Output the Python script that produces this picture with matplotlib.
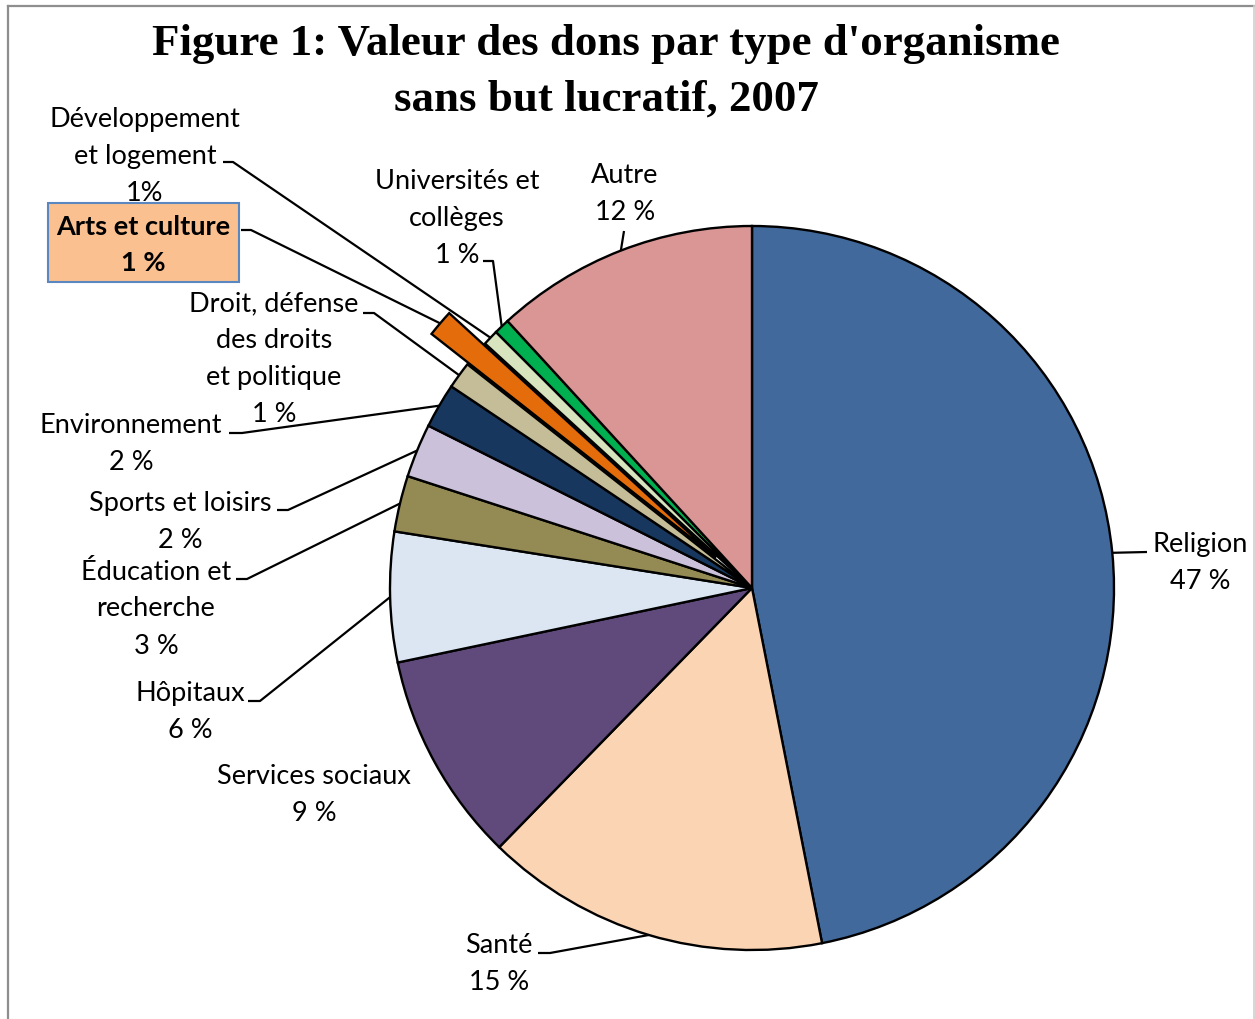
import numpy as np
import matplotlib.pyplot as plt
from matplotlib.lines import Line2D
from matplotlib.patches import Rectangle

W, H = 1255, 1019

# Chart data (share of total donations, %)
categories = ["Religion", "Santé", "Services sociaux", "Hôpitaux",
              "Éducation et recherche", "Sports et loisirs", "Environnement",
              "Droit, défense des droits et politique", "Arts et culture",
              "Développement et logement", "Universités et collèges", "Autre"]
shares = [46.9, 15.4, 9.4, 5.8, 2.5, 2.4, 2.0, 1.2, 1.2, 0.7, 0.7, 11.8]
labels = ["Religion\n47 %", "Santé\n15 %", "Services sociaux\n9 %", "Hôpitaux\n6 %",
          "Éducation et\nrecherche\n3 %", "Sports et loisirs\n2 %", "Environnement\n2 %",
          "Droit, défense\ndes droits\net politique\n1 %", "Arts et culture\n1 %",
          "Développement\net logement\n1%", "Universités et\ncollèges\n1 %", "Autre\n12 %"]
colors = ["#41699B", "#FBD4B4", "#604A7B", "#DCE6F2", "#948A54", "#CCC1DA",
          "#17375E", "#C4BD97", "#E46C0A", "#D7E4BD", "#00B050", "#D99694"]

# Layout in pixel coordinates (origin top-left)
center_px = (752, 588)
radius = 362
explode = [0, 0, 0, 0, 0, 0, 0, 0, 47, 0, 0, 0]
label_pos = [(1200, 563), (499, 964), (314, 795), (190, 712), (156, 609), (180, 522),
             (131, 444), (274, 359), (143, 245), (145, 156), (457, 218), (625, 194)]
leaders = [[(1147, 552)], [(550, 953), (538, 953)], [], [(260, 701), (248, 701)],
           [(247, 579), (236, 579)], [(288, 510), (277, 510)], [(242, 433), (229, 433)],
           [(374, 313), (363, 313)], [(251, 230), (241, 230)], [(233, 162), (223, 162)],
           [(493, 261), (483, 261)], [(624, 231)]]

label_font = "Lato"
label_size = 19.5
label_ls = 1.6

fig = plt.figure(figsize=(W / 100, H / 100), dpi=100)
ax = fig.add_axes([0, 0, 1, 1])

wedges, _ = ax.pie(shares, colors=colors, explode=explode, startangle=90,
                   counterclock=False, radius=radius,
                   center=(center_px[0], H - center_px[1]),
                   wedgeprops=dict(edgecolor="black", linewidth=1.7))
ax.set_xlim(0, W)
ax.set_ylim(0, H)
ax.set_aspect("equal")
ax.axis("off")

for w, lab, pos, path in zip(wedges, labels, label_pos, leaders):
    if path:
        th = np.deg2rad((w.theta1 + w.theta2) / 2)
        sx = w.center[0] + w.r * np.cos(th)
        sy = w.center[1] + w.r * np.sin(th)
        xs = [sx] + [p[0] for p in path]
        ys = [sy] + [H - p[1] for p in path]
        ax.plot(xs, ys, color="black", lw=1.6, solid_capstyle="butt")
    if lab.startswith("Arts"):
        ax.add_patch(Rectangle((48, H - 282), 191, 79, facecolor="#FAC090",
                               edgecolor="#5B87C0", lw=1.5, zorder=3))
        ax.text(pos[0], H - pos[1], lab, ha="center", va="center", fontsize=label_size,
                fontweight="bold", family=label_font, linespacing=label_ls, zorder=4)
    else:
        ax.text(pos[0], H - pos[1], lab, ha="center", va="center", fontsize=label_size,
                family=label_font, linespacing=label_ls)

fig.text(606 / W, 1 - 72 / H, "Figure 1: Valeur des dons par type d'organisme\nsans but lucratif, 2007",
         ha="center", va="center", fontsize=32.3, fontweight="bold",
         family="Liberation Serif", linespacing=1.51)

# chart area border (left, top, right)
fig.add_artist(Line2D([7.5 / W, 7.5 / W], [0, 1 - 5.5 / H], color="#8E8E8E", lw=1.6))
fig.add_artist(Line2D([7.5 / W, 1253.5 / W], [1 - 5.5 / H, 1 - 5.5 / H], color="#8E8E8E", lw=1.6))
fig.add_artist(Line2D([1253.5 / W, 1253.5 / W], [0, 1 - 5.5 / H], color="#D0D0D0", lw=1.2))

fig.savefig("out.png", dpi=100)
